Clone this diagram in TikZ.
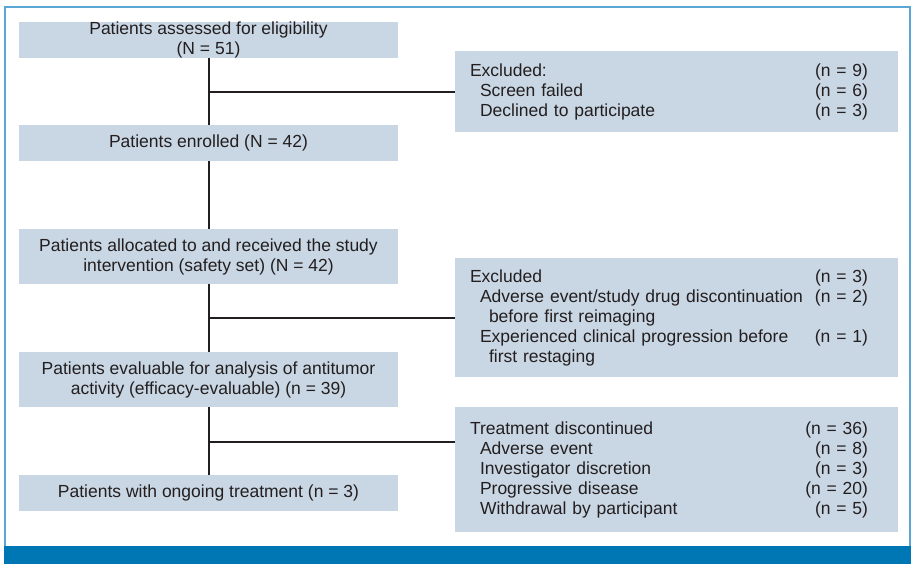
\documentclass[tikz,border=0pt]{standalone}
\usepackage{fontspec}
\setmainfont{Liberation Sans}
\usetikzlibrary{arrows.meta}
\definecolor{boxfill}{HTML}{C9D6E3}
\definecolor{framecol}{HTML}{5AA7D6}
\definecolor{barcol}{HTML}{0077B5}
\definecolor{inkcol}{HTML}{231F20}
% count pushed to the right column of a box
\newcommand{\cnt}[1]{\hfill#1\hspace*{15pt}\mbox{}}

\begin{document}
\begin{tikzpicture}[x=1pt, y=-1pt,
  every node/.style={font=\fontsize{17.5}{20}\selectfont, text=inkcol},
  leftbox/.style={fill=boxfill, minimum width=379pt, inner sep=0pt, align=center},
  rightbox/.style={fill=boxfill, minimum width=443pt, inner xsep=15pt, inner ysep=0pt, text width=413pt, align=left},
  flow/.style={draw=inkcol, line width=2pt}]
\useasboundingbox (0,0) rectangle (915,568);
% Frame and footer bar
\draw[framecol, line width=1.5pt] (5,546) -- (5,7) -- (910,7) -- (910,546);
\fill[barcol] (4,546) rectangle (911,564);
% Main flow (left column)
\node[leftbox, minimum height=36pt] (assessed) at (208.5,40) {Patients assessed for eligibility\\(N = 51)};
\node[leftbox, minimum height=36pt] (enrolled) at (208.5,143) {Patients enrolled (N = 42)};
\node[leftbox, minimum height=55pt] (safety) at (208.5,256.5) {Patients allocated to and received the study\\intervention (safety set) (N = 42)};
\node[leftbox, minimum height=55pt] (efficacy) at (208.5,379.5) {Patients evaluable for analysis of antitumor\\activity (efficacy-evaluable) (n = 39)};
\node[leftbox, minimum height=36pt] (ongoing) at (208.5,493) {Patients with ongoing treatment (n = 3)};
% Side boxes (right column)
\node[rightbox, minimum height=81pt] (excl1) at (676.5,91.5) {Excluded:\cnt{(n = 9)}\\
  \hspace*{10pt}Screen failed\cnt{(n = 6)}\\
  \hspace*{10pt}Declined to participate\cnt{(n = 3)}};
\node[rightbox, minimum height=119pt] (excl2) at (676.5,317.5) {Excluded\cnt{(n = 3)}\\
  \hspace*{10pt}Adverse event/study drug discontinuation\cnt{(n = 2)}\\
  \hspace*{19pt}before first reimaging\\
  \hspace*{10pt}Experienced clinical progression before\cnt{(n = 1)}\\
  \hspace*{19pt}first restaging};
\node[rightbox, minimum height=125pt] (stopped) at (676.5,469.5) {Treatment discontinued\cnt{(n = 36)}\\
  \hspace*{10pt}Adverse event\cnt{(n = 8)}\\
  \hspace*{10pt}Investigator discretion\cnt{(n = 3)}\\
  \hspace*{10pt}Progressive disease\cnt{(n = 20)}\\
  \hspace*{10pt}Withdrawal by participant\cnt{(n = 5)}};
% Trunk
\draw[flow] (assessed) -- (enrolled);
\draw[flow] (enrolled) -- (safety);
\draw[flow] (safety) -- (efficacy);
\draw[flow] (efficacy) -- (ongoing);
% Branches
\coordinate (split1) at (assessed.south |- excl1.west);
\coordinate (split2) at (safety.south |- excl2.west);
\coordinate (split3) at (efficacy.south |- 0,442);
\draw[flow] (split1) -- (excl1.west);
\draw[flow] (split2) -- (excl2.west);
\draw[flow] (split3) -- (split3 -| stopped.west);
\end{tikzpicture}
\end{document}
